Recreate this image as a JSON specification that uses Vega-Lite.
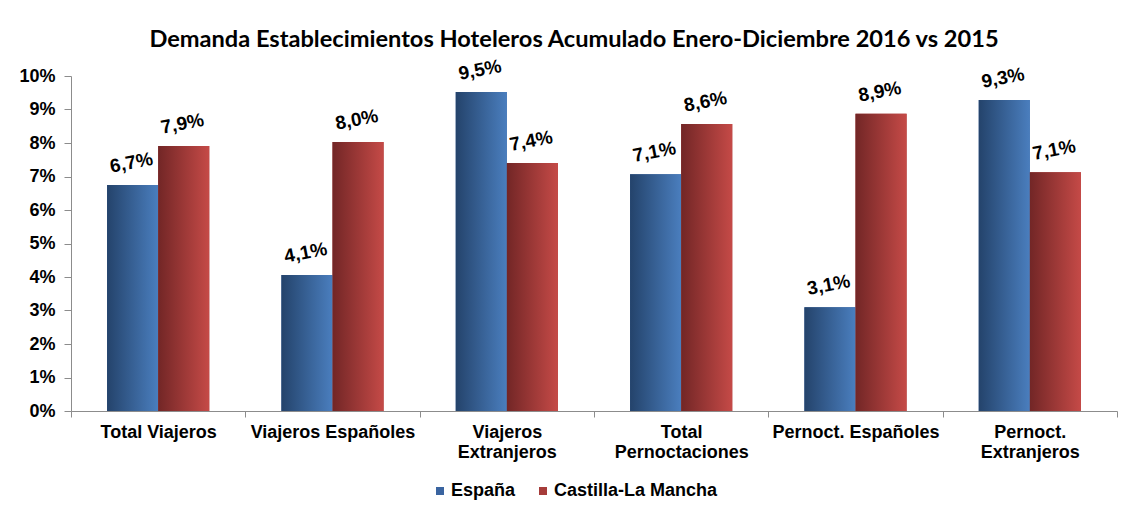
{
  "$schema": "https://vega.github.io/schema/vega-lite/v6.json",
  "width": 1046,
  "height": 335,
  "autosize": "none",
  "padding": {"left": 71, "top": 76, "right": 12, "bottom": 101},
  "background": "white",
  "title": {
    "text": "Demanda Establecimientos Hoteleros Acumulado Enero-Diciembre 2016 vs 2015",
    "font": "Lato",
    "fontSize": 23.6,
    "fontWeight": "bold",
    "color": "black",
    "anchor": "middle",
    "dx": -20,
    "offset": 5
  },
  "data": {
    "values": [
      {"cat": "Total Viajeros", "serie": "España", "valor": 6.75, "lbl": "6,7%"},
      {"cat": "Total Viajeros", "serie": "Castilla-La Mancha", "valor": 7.91, "lbl": "7,9%"},
      {"cat": "Viajeros Españoles", "serie": "España", "valor": 4.06, "lbl": "4,1%"},
      {"cat": "Viajeros Españoles", "serie": "Castilla-La Mancha", "valor": 8.03, "lbl": "8,0%"},
      {"cat": "Viajeros|Extranjeros", "serie": "España", "valor": 9.52, "lbl": "9,5%"},
      {"cat": "Viajeros|Extranjeros", "serie": "Castilla-La Mancha", "valor": 7.40, "lbl": "7,4%"},
      {"cat": "Total|Pernoctaciones", "serie": "España", "valor": 7.07, "lbl": "7,1%"},
      {"cat": "Total|Pernoctaciones", "serie": "Castilla-La Mancha", "valor": 8.57, "lbl": "8,6%"},
      {"cat": "Pernoct. Españoles", "serie": "España", "valor": 3.10, "lbl": "3,1%"},
      {"cat": "Pernoct. Españoles", "serie": "Castilla-La Mancha", "valor": 8.87, "lbl": "8,9%"},
      {"cat": "Pernoct.|Extranjeros", "serie": "España", "valor": 9.28, "lbl": "9,3%"},
      {"cat": "Pernoct.|Extranjeros", "serie": "Castilla-La Mancha", "valor": 7.13, "lbl": "7,1%"}
    ]
  },
  "encoding": {
    "x": {
      "field": "cat",
      "type": "nominal",
      "sort": null,
      "scale": {"paddingInner": 0, "paddingOuter": 0},
      "axis": {
        "title": null,
        "labelAngle": 0,
        "labelExpr": "split(datum.label, '|')",
        "labelFont": "Arial",
        "labelFontSize": 18,
        "labelFontWeight": "bold",
        "labelColor": "black",
        "labelPadding": 6,
        "labelLineHeight": 20,
        "labelLimit": 220,
        "tickBand": "extent",
        "tickSize": 6,
        "tickColor": "#8c8c8c",
        "domainColor": "#8c8c8c",
        "domainWidth": 1,
        "grid": false
      }
    },
    "xOffset": {
      "field": "serie",
      "type": "nominal",
      "scale": {"domain": ["España", "Castilla-La Mancha"], "paddingInner": 0, "paddingOuter": 0.706}
    },
    "y": {
      "field": "valor",
      "type": "quantitative",
      "scale": {"domain": [0, 10], "nice": false},
      "axis": {
        "title": null,
        "values": [0, 1, 2, 3, 4, 5, 6, 7, 8, 9, 10],
        "labelExpr": "datum.value + '%'",
        "labelFont": "Arial",
        "labelFontSize": 18,
        "labelFontWeight": "bold",
        "labelColor": "black",
        "labelPadding": 9,
        "tickSize": 7,
        "tickColor": "#8c8c8c",
        "domainColor": "#8c8c8c",
        "grid": false
      }
    }
  },
  "layer": [
    {
      "mark": {"type": "bar"},
      "encoding": {
        "color": {
          "field": "serie",
          "type": "nominal",
          "scale": {"domain": ["España", "Castilla-La Mancha"], "range": ["#3a64a0", "#a63c3a"]},
          "legend": {
            "title": null,
            "orient": "none",
            "direction": "horizontal",
            "legendX": 360,
            "legendY": 406,
            "symbolType": "square",
            "symbolSize": 64,
            "symbolStrokeWidth": 0,
            "labelFont": "Arial",
            "labelFontSize": 18,
            "labelFontWeight": "bold",
            "labelColor": "black",
            "labelLimit": 300,
            "columnPadding": 18,
            "labelOffset": 2
          }
        }
      }
    },
    {
      "transform": [{"filter": "datum.serie === 'España'"}],
      "mark": {
        "type": "bar",
        "color": {
          "gradient": "linear", "x1": 0, "y1": 0, "x2": 1, "y2": 0,
          "stops": [{"offset": 0, "color": "#24436b"}, {"offset": 1, "color": "#4a7ebe"}]
        }
      }
    },
    {
      "transform": [{"filter": "datum.serie === 'Castilla-La Mancha'"}],
      "mark": {
        "type": "bar",
        "color": {
          "gradient": "linear", "x1": 0, "y1": 0, "x2": 1, "y2": 0,
          "stops": [{"offset": 0, "color": "#722626"}, {"offset": 1, "color": "#c54a47"}]
        }
      }
    },
    {
      "mark": {
        "type": "text",
        "angle": -11,
        "baseline": "bottom",
        "align": "center",
        "dx": 3,
        "dy": -12,
        "font": "Arial",
        "fontSize": 19,
        "fontWeight": "bold",
        "color": "black"
      },
      "encoding": {"text": {"field": "lbl"}}
    }
  ],
  "config": {"view": {"stroke": null}}
}
